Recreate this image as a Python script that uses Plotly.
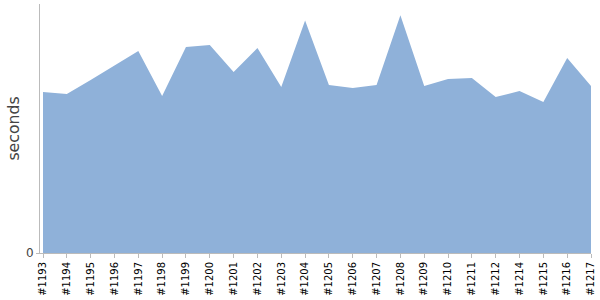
import plotly.graph_objects as go

builds = ["#1193", "#1194", "#1195", "#1196", "#1197", "#1198", "#1199", "#1200",
          "#1201", "#1202", "#1203", "#1204", "#1205", "#1206", "#1207", "#1208",
          "#1209", "#1210", "#1211", "#1212", "#1214", "#1215", "#1216", "#1217"]
seconds = [161, 159, 173, 187.5, 202, 157, 206, 208,
           181, 205, 166, 232.5, 168, 165, 168, 237.7,
           167, 174, 175, 156, 162, 151, 195, 167]

fig = go.Figure()
fig.add_trace(go.Scatter(
    x=list(range(len(builds))), y=seconds, mode="lines", fill="tozeroy",
    line=dict(color="rgb(143,177,217)", width=0),
    fillcolor="rgb(143,177,217)", hoverinfo="skip", showlegend=False,
))

fig.update_layout(
    width=600, height=300,
    margin=dict(l=40, r=9, t=4, b=47),
    paper_bgcolor="white", plot_bgcolor="white",
    font=dict(family="DejaVu Sans", color="#000"),
    xaxis=dict(
        tickmode="array", tickvals=list(range(len(builds))), ticktext=builds,
        range=[-0.126, len(builds) - 1], tickangle=-90,
        tickfont=dict(size=10, color="#000"),
        ticks="outside", ticklen=4, tickcolor="#bbb",
        showline=True, linecolor="#bbb", linewidth=1,
        showgrid=False, zeroline=False, fixedrange=True,
    ),
    yaxis=dict(
        range=[0, 249], tickvals=[0], ticktext=["0"],
        tickfont=dict(size=12, color="#444"),
        ticks="outside", ticklen=3, tickcolor="#bbb",
        showline=True, linecolor="#bbb", linewidth=1,
        showgrid=False, zeroline=False,
        title=dict(text="seconds", font=dict(size=15.7, color="#444"), standoff=2),
    ),
)

fig.write_html("out.html")
